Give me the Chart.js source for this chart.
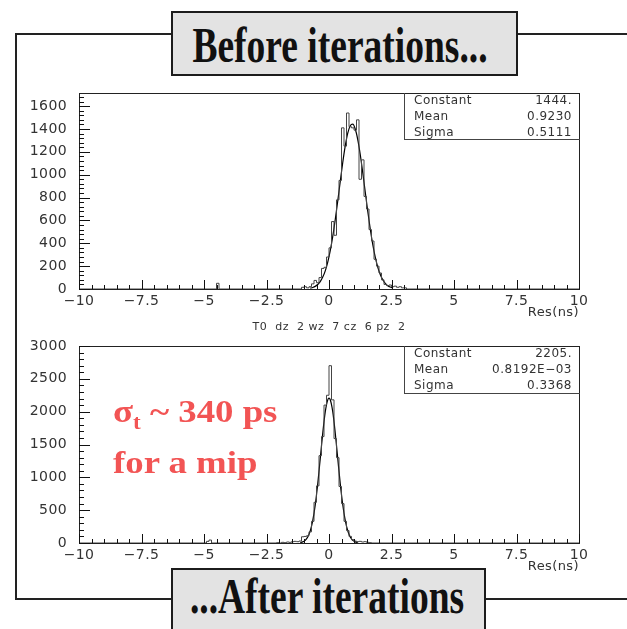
<!DOCTYPE html>
<html>
<head>
<meta charset="utf-8">
<script src="https://cdn.jsdelivr.net/npm/chart.js@4.4.0/dist/chart.umd.min.js"></script>
<style>
    body { margin: 0; background: #fff; }
    #page { position: relative; width: 627px; height: 629px; overflow: hidden; }
    #frame { position: absolute; left: 15px; top: 33px; width: 700px; height: 563px; border: 2px solid #222; border-right: none; }
    canvas { position: absolute; left: 0; }
    #c1, #t1 { top: 80px; }
    #c2, #t2 { top: 315px; }
    #t1, #t2 { z-index: 5; pointer-events: none; }
    .box { position: absolute; background: #e3e3e3; border: 2px solid #1c1c1c; box-sizing: border-box; z-index: 2; }
    .big { position: absolute; width: 400px; font: bold 50px "Liberation Serif"; line-height: 50px; white-space: nowrap; text-align: center; color: #111; z-index: 3; transform: scaleX(0.75); }
    .red { position: absolute; left: 113px; font: bold 32px "Liberation Serif"; line-height: 32px; color: #f25454; white-space: nowrap; transform-origin: left center; transform: scaleX(1.15); z-index: 3; }
</style>
</head>
<body>
<div id="page">
    <div id="frame"></div>
    <canvas id="c1" width="627" height="250"></canvas>
    <canvas id="c2" width="627" height="265"></canvas>
    <canvas id="t1" width="627" height="250"></canvas>
    <canvas id="t2" width="627" height="265"></canvas>
    <div class="box" style="left:171px; top:11px; width:347px; height:65px;"></div>
    <div class="big" style="left:140px; top:20px;">Before iterations...</div>
    <div class="box" style="left:171px; top:568px; width:315px; height:80px;"></div>
    <div class="big" style="left:127px; top:571px;">...After iterations</div>
    <div class="red" style="top:395px;">σ<span style="font-size:20px; position:relative; top:7px;">t</span> ~ 340 ps</div>
    <div class="red" style="top:446px;">for a mip</div>
</div>
<script>
// ticks (labelled ones; minor ticks every 0.5 on x)
const xTicks = [-10, -7.5, -5, -2.5, 0, 2.5, 5, 7.5, 10];
const xTickLabels = ['\u221210', '\u22127.5', '\u22125', '\u22122.5', '0', '2.5', '5', '7.5', '10'];
const topYTicks = [0, 200, 400, 600, 800, 1000, 1200, 1400, 1600];
const topYLabels = ['0', '200', '400', '600', '800', '1000', '1200', '1400', '1600'];
const botYTicks = [0, 500, 1000, 1500, 2000, 2500, 3000];
const botYLabels = ['0', '500', '1000', '1500', '2000', '2500', '3000'];

// before iterations: bin centres (width 0.1) and counts
const topBins = [-4.45,
    -1.05, -0.95, -0.85, -0.75, -0.65, -0.55, -0.45, -0.35, -0.25, -0.15,
    -0.05, 0.05, 0.15, 0.25, 0.35, 0.45, 0.55, 0.65, 0.75, 0.85,
    0.95, 1.05, 1.15, 1.25, 1.35, 1.45, 1.55, 1.65, 1.75, 1.85,
    1.95, 2.05, 2.15, 2.25, 2.35, 2.45, 2.55, 2.65, 2.75, 2.85,
    2.95, 3.05];
const topCounts = [50,
    15, 20, 10, 20, 45, 75, 55, 100, 180, 190,
    280, 360, 590, 470, 780, 950, 1410, 1250, 1540, 1420,
    1410, 1390, 1480, 960, 1130, 810, 700, 520, 420, 260,
    200, 140, 80, 40, 30, 35, 20, 25, 15, 20,
    10, 10];
const topFitX = [-0.75, -0.65, -0.55, -0.45, -0.35, -0.25, -0.15, -0.05, 0.05, 0.15,
    0.25, 0.35, 0.45, 0.55, 0.65, 0.75, 0.85, 0.95, 1.05, 1.15,
    1.25, 1.35, 1.45, 1.55, 1.65, 1.75, 1.85, 1.95, 2.05, 2.15,
    2.25, 2.35, 2.45, 2.55];
const topFitY = [7, 13, 23, 39, 65, 104, 159, 236, 336, 460,
    607, 770, 941, 1107, 1252, 1364, 1429, 1442, 1400, 1308,
    1177, 1018, 849, 680, 525, 390, 279, 192, 127, 81,
    50, 29, 17, 9];
const topStats = ['1444.', '0.9230', '0.5111'];

// after iterations
const botBins = [-4.85, -4.75,
    -2.05, -1.95, -1.85, -1.75, -1.65, -1.55, -1.45, -1.35, -1.25, -1.15,
    -1.05, -0.95, -0.85, -0.75, -0.65, -0.55, -0.45, -0.35, -0.25, -0.15,
    -0.05, 0.05, 0.15, 0.25, 0.35, 0.45, 0.55, 0.65, 0.75, 0.85,
    0.95, 1.05, 1.15, 1.25, 1.35, 1.45, 1.55, 1.65];
const botCounts = [25, 45,
    5, 0, 10, 5, 15, 10, 20, 25, 20, 30,
    95, 100, 110, 170, 330, 620, 870, 1330, 1620, 2100,
    2250, 2700, 2180, 1590, 1300, 860, 600, 330, 190, 100,
    50, 30, 20, 25, 15, 20, 10, 5];
const botFitX = [-1.15, -1.05, -0.95, -0.85, -0.75, -0.65, -0.55, -0.45, -0.35, -0.25, -0.15, -0.05,
    0, 0.05, 0.15, 0.25, 0.35, 0.45, 0.55, 0.65, 0.75, 0.85, 0.95, 1.05, 1.15];
const botFitY = [6, 17, 41, 91, 185, 342, 581, 903, 1285, 1674, 1997, 2180,
    2205, 2182, 2000, 1675, 1287, 905, 583, 344, 186, 92, 41, 17, 6];
const botStats = ['2205.', '0.8192E\u221203', '0.3368'];

const statNames = ['Constant', 'Mean', 'Sigma'];
const histTitle = 'T0  dz  2 wz  7 cz  6 pz  2';

const FONT = 'DejaVu Sans';

// outline of a histogram, bins are 0.1 wide
function histSteps(centers, counts) {
    const pts = [{ x: -10, y: 0 }];
    for (let i = 0; i < centers.length; i++) {
        const lo = centers[i] - 0.05;
        if (i == 0 || centers[i] - centers[i - 1] > 0.11) pts.push({ x: lo, y: 0 });
        pts.push({ x: lo, y: counts[i] });
        if (i == centers.length - 1 || centers[i + 1] - centers[i] > 0.11) pts.push({ x: centers[i] + 0.05, y: 0 });
    }
    pts.push({ x: 10, y: 0 });
    return pts;
}

// ROOT style frame, inward ticks (on a top layer) and stats box
const rootFrame = {
    id: 'rootFrame',
    beforeDraw(chart) {
        chart.ctx.letterSpacing = '0.4px';
    },
    afterDraw(chart, args, opts) {
        const ctx = chart.ctx;
        const a = chart.chartArea;
        const sx = chart.scales.x, sy = chart.scales.y;
        const L = Math.round(a.left), R = Math.round(a.right), T = Math.round(a.top), B = Math.round(a.bottom);

        // tick marks go on the overlay canvas
        const tctx = document.getElementById(opts.overlay).getContext('2d');
        tctx.clearRect(0, 0, tctx.canvas.width, tctx.canvas.height);
        tctx.fillStyle = '#111';
        for (let i = 0; i <= 40; i++) {
            const v = -10 + i * 0.5;
            const px = Math.round(sx.getPixelForValue(v));
            const len = xTicks.indexOf(v) >= 0 ? 9 : 4;
            tctx.fillRect(px, B - len, 1, len);
        }
        for (let i = 0; i * opts.yMinor <= sy.max + 1e-9; i++) {
            const v = i * opts.yMinor;
            const py = Math.round(sy.getPixelForValue(v));
            const len = opts.yTicks.indexOf(v) >= 0 ? 11 : 5;
            tctx.fillRect(L, py, len, 1);
        }

        ctx.save();
        ctx.letterSpacing = '0px';
        ctx.fillStyle = '#222';
        ctx.fillRect(L, T, R - L + 1, 1);
        ctx.fillRect(L, B, R - L + 1, 1);
        ctx.fillRect(L, T, 1, B - T + 1);
        ctx.fillRect(R, T, 1, B - T + 1);

        const bw = 175, bh = opts.statsH;
        const bx = R - bw;
        ctx.fillStyle = '#fff';
        ctx.fillRect(bx + 1, T + 1, bw - 1, bh - 1);
        ctx.fillStyle = '#444';
        ctx.fillRect(bx, T, 1, bh + 1);
        ctx.fillRect(bx, T + bh, bw + 1, 1);
        ctx.fillStyle = '#333';
        ctx.font = '12px "' + FONT + '"';
        ctx.letterSpacing = '0.5px';
        ctx.textBaseline = 'middle';
        statNames.forEach((name, i) => {
            const ty = T + 8 + i * 16;
            ctx.textAlign = 'left';
            ctx.fillText(name, bx + 10, ty);
            ctx.textAlign = 'right';
            ctx.fillText(opts.stats[i], R - 7, ty);
        });
        if (opts.title) {
            ctx.font = '11px "' + FONT + '"';
            ctx.textAlign = 'center';
            ctx.fillText(opts.title, (L + R) / 2, 12);
        }
        ctx.restore();
    }
};

function makeChart(id, o) {
    return new Chart(document.getElementById(id), {
        type: 'line',
        data: {
            datasets: [{
                data: histSteps(o.bins, o.counts),
                stepped: true,
                borderColor: '#444',
                borderWidth: 1,
                pointRadius: 0,
                fill: false
            }, {
                data: o.fitX.map((v, i) => ({ x: v, y: o.fitY[i] })),
                borderColor: '#000',
                borderWidth: 1.2,
                pointRadius: 0,
                cubicInterpolationMode: 'monotone',
                fill: false
            }]
        },
        options: {
            responsive: false,
            devicePixelRatio: 1,
            animation: false,
            layout: { padding: { top: o.padTop, right: 48, left: 0, bottom: 0 } },
            plugins: {
                legend: { display: false },
                tooltip: { enabled: false },
                rootFrame: {
                    overlay: o.overlay, yMinor: o.yMinor, yTicks: o.yTicks,
                    stats: o.stats, statsH: o.statsH, title: o.title
                }
            },
            scales: {
                x: {
                    type: 'linear',
                    min: -10,
                    max: 10,
                    grid: { display: false, drawTicks: false },
                    border: { display: false },
                    afterBuildTicks: s => { s.ticks = xTicks.map(v => ({ value: v })); },
                    afterFit: s => { s.height = o.xAxisH; s.paddingLeft = 0; s.paddingRight = 0; },
                    ticks: {
                        padding: 4,
                        color: '#333',
                        maxRotation: 0,
                        autoSkip: false,
                        font: { family: FONT, size: 14 },
                        callback: (v, i) => xTickLabels[i]
                    },
                    title: {
                        display: true,
                        text: 'Res(ns)',
                        align: 'end',
                        color: '#333',
                        font: { family: FONT, size: 13 },
                        padding: { top: 0, bottom: o.titlePad }
                    }
                },
                y: {
                    type: 'linear',
                    min: 0,
                    max: o.yMax,
                    grid: { display: false, drawTicks: false },
                    border: { display: false },
                    afterBuildTicks: s => { s.ticks = o.yTicks.map(v => ({ value: v })); },
                    afterFit: s => { s.width = 79; s.paddingTop = 0; s.paddingBottom = 0; },
                    ticks: {
                        padding: 12,
                        color: '#333',
                        font: { family: FONT, size: 14 },
                        callback: (v, i) => o.yLabels[i]
                    }
                }
            }
        },
        plugins: [rootFrame]
    });
}

makeChart('c1', {
    overlay: 't1',
    bins: topBins, counts: topCounts, fitX: topFitX, fitY: topFitY,
    yMax: 1715, yMinor: 40, yTicks: topYTicks, yLabels: topYLabels,
    stats: topStats, statsH: 46, padTop: 13, xAxisH: 41, titlePad: 10
});
makeChart('c2', {
    overlay: 't2',
    bins: botBins, counts: botCounts, fitX: botFitX, fitY: botFitY,
    yMax: 3000, yMinor: 100, yTicks: botYTicks, yLabels: botYLabels,
    stats: botStats, statsH: 47, padTop: 31, xAxisH: 37, titlePad: 6, title: histTitle
});
</script>
</body>
</html>
